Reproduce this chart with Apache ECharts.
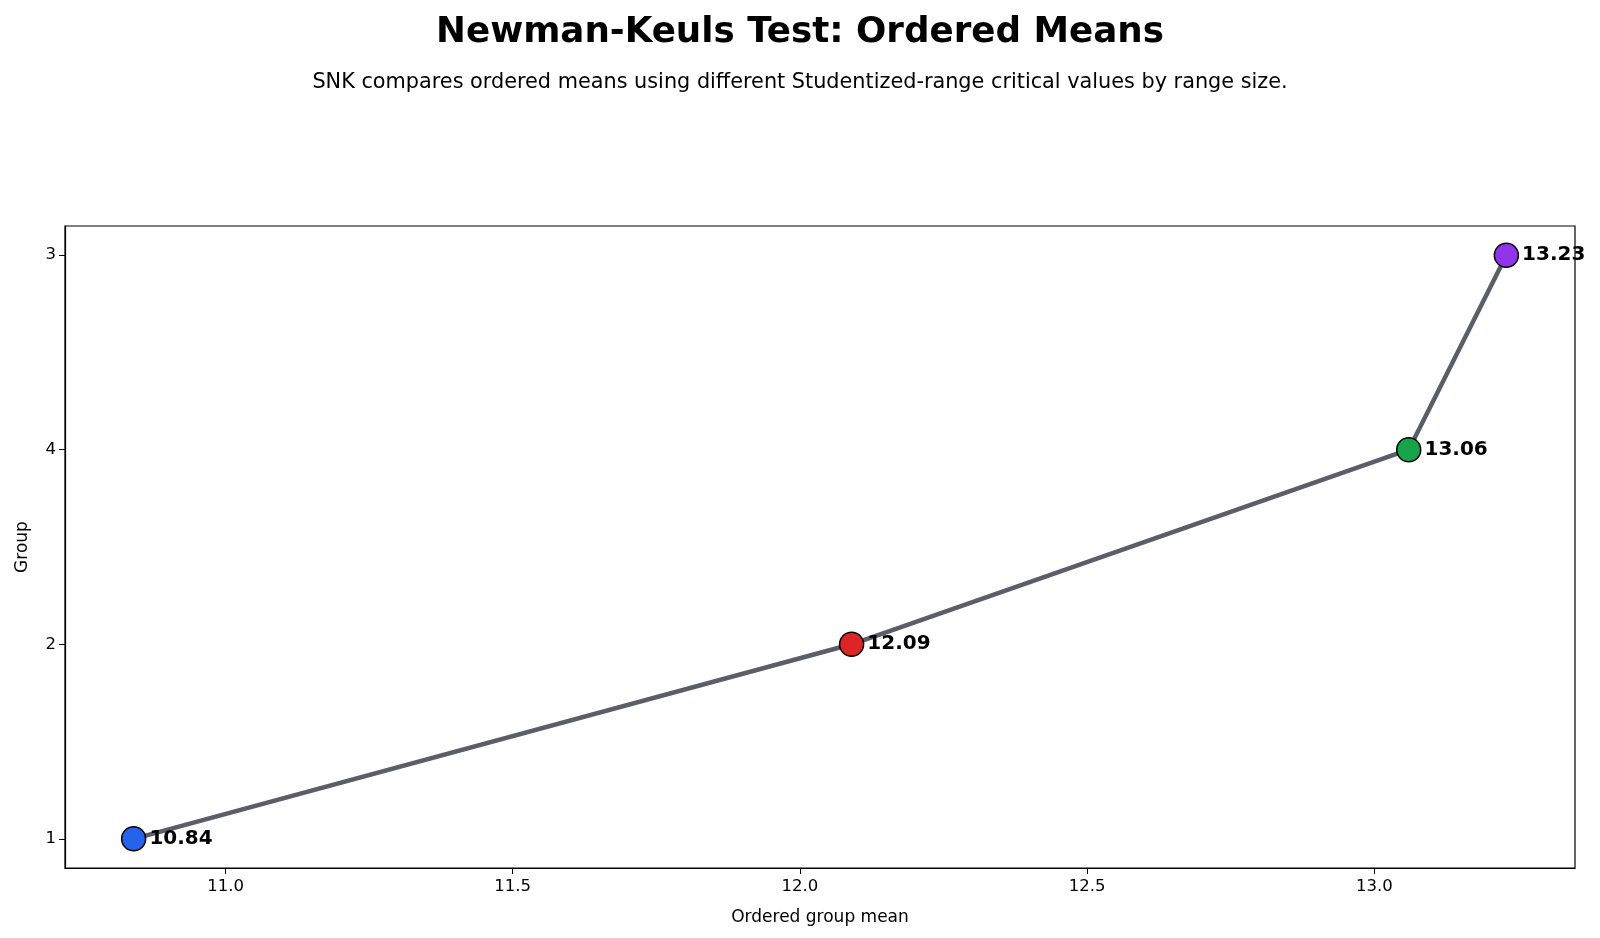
<!DOCTYPE html>
<html>
<head>
<meta charset="utf-8">
<script src="https://cdn.jsdelivr.net/npm/echarts@6/dist/echarts.min.js"></script>
<style>
  html, body { margin: 0; padding: 0; background: #fff; }
  #chart { width: 1600px; height: 938px; }
</style>
</head>
<body>
<div id="chart"></div>
<script>
// ordered groups (bottom to top) and their means
var groups = ['1', '2', '4', '3'];
var means = [10.84, 12.09, 13.06, 13.23];
var pointColors = ['#2563eb', '#dc2626', '#16a34a', '#9333ea'];
var xTicks = [11.0, 11.5, 12.0, 12.5, 13.0];

var font = 'DejaVu Sans';

var seriesData = means.map(function (m, i) {
  return {
    value: [m, i],
    itemStyle: { color: pointColors[i] }
  };
});

// matplotlib-like 5% margins
var xSpan = means[means.length - 1] - means[0];
var xMin = means[0] - xSpan * 0.05;
var xMax = means[means.length - 1] + xSpan * 0.05;
var yMin = -(groups.length - 1) * 0.05;
var yMax = (groups.length - 1) * 1.05;

var chart = echarts.init(document.getElementById('chart'));
chart.setOption({
  backgroundColor: '#ffffff',
  animation: false,
  textStyle: { fontFamily: font },
  title: [{
    text: 'Newman-Keuls Test: Ordered Means',
    left: 'center',
    top: 10,
    textStyle: { fontFamily: font, fontSize: 35.7, fontWeight: 'bold', color: '#000' }
  }, {
    text: 'SNK compares ordered means using different Studentized-range critical values by range size.',
    left: 'center',
    top: 67,
    textStyle: { fontFamily: font, fontSize: 20.8, fontWeight: 'normal', color: '#000' }
  }],
  grid: { left: 65, right: 25, top: 226, bottom: 70, show: true, borderColor: '#000', borderWidth: 1.2 },
  xAxis: {
    type: 'value',
    min: xMin,
    max: xMax,
    name: 'Ordered group mean',
    nameLocation: 'middle',
    nameGap: 41,
    nameTextStyle: { fontFamily: font, fontSize: 17, color: '#000' },
    axisLine: { show: true, onZero: false, lineStyle: { color: '#000', width: 1.2 } },
    axisTick: { show: true, inside: false, length: 6, customValues: xTicks, lineStyle: { color: '#000' } },
    axisLabel: {
      customValues: xTicks,
      inside: false,
      fontFamily: font, fontSize: 16.5, color: '#000', margin: 10,
      formatter: function (v) { return v.toFixed(1); }
    },
    splitLine: { show: false }
  },
  yAxis: {
    type: 'value',
    min: yMin,
    max: yMax,
    name: 'Group',
    nameLocation: 'middle',
    nameGap: 34,
    nameRotate: 90,
    nameTextStyle: { fontFamily: font, fontSize: 17, color: '#000' },
    axisLine: { show: true, onZero: false, lineStyle: { color: '#000', width: 1.2 } },
    axisTick: { show: true, inside: false, length: 6, customValues: [0, 1, 2, 3], lineStyle: { color: '#000' } },
    axisLabel: {
      customValues: [0, 1, 2, 3],
      inside: false,
      fontFamily: font, fontSize: 16.5, color: '#000', margin: 9,
      formatter: function (v) { return groups[Math.round(v)]; }
    },
    splitLine: { show: false }
  },
  series: [{
    type: 'line',
    data: seriesData,
    symbol: 'circle',
    symbolSize: 24,
    clip: false,
    lineStyle: { color: '#5a5e69', width: 4.5 },
    itemStyle: { borderColor: '#000', borderWidth: 1.5 },
    label: {
      show: true,
      position: 'right',
      distance: 3,
      fontFamily: font,
      fontSize: 20,
      fontWeight: 'bold',
      color: '#000',
      formatter: function (p) { return p.value[0].toFixed(2); }
    },
    z: 3
  }]
});
</script>
</body>
</html>
